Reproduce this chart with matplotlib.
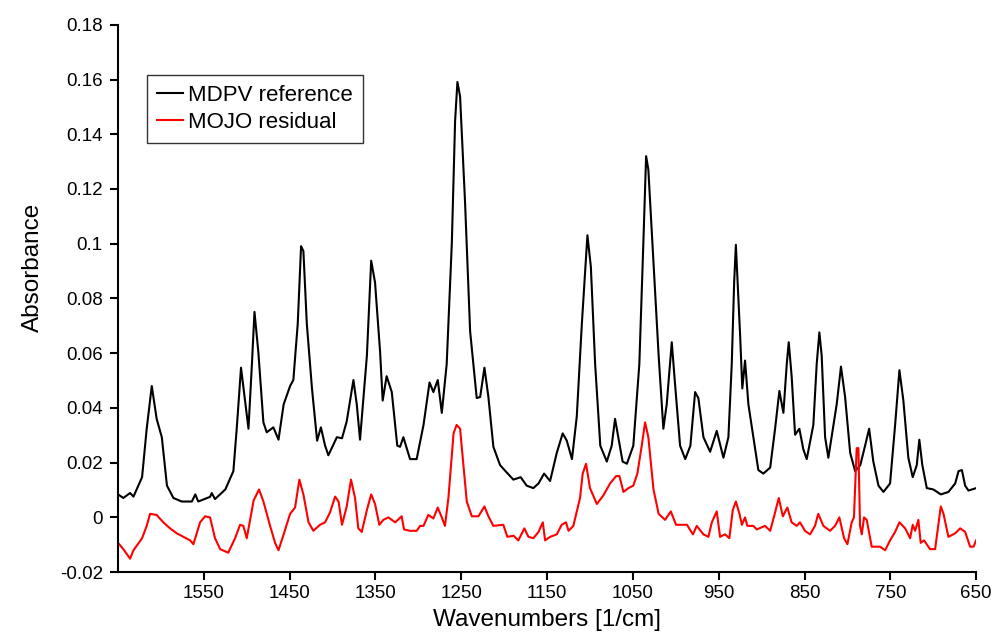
import matplotlib
matplotlib.use('Agg')
import matplotlib.pyplot as plt
from matplotlib.ticker import FuncFormatter

# MDPV reference spectrum (wavenumber, absorbance)
ref_wn = [1650, 1643.8, 1636, 1632, 1622, 1616.6, 1610.7, 1605, 1599, 1593, 1585.5, 1575.8,
          1564, 1560, 1556.5, 1542.8, 1540.8, 1537, 1525, 1515.6, 1511.7, 1506.7, 1502, 1498,
          1494, 1491, 1486.5, 1480.6, 1476.7, 1469, 1463, 1457, 1449.5, 1445.7, 1440.6, 1436.7,
          1434, 1430, 1424, 1418, 1413.6, 1408.7, 1404.9, 1395, 1389, 1383.5, 1375.7, 1371.8,
          1368, 1360, 1355, 1350.5, 1344.6, 1341.6, 1337, 1331, 1324.6, 1321.3, 1317.5, 1309.7,
          1302, 1294, 1287, 1282.5, 1277.4, 1272.7, 1267, 1261, 1257.2, 1254.5, 1251.4, 1245.6,
          1239.7, 1232, 1228, 1223, 1218.4, 1212.6, 1204.8, 1197, 1189.3, 1180.8, 1173.8, 1166,
          1160, 1153.5, 1146.5, 1138.7, 1131.8, 1127, 1121, 1115.4, 1109.5, 1103, 1099, 1094,
          1088, 1080.4, 1074.7, 1070.8, 1067, 1062, 1057, 1049.5, 1042.5, 1037.8, 1034.6, 1032,
          1026, 1020, 1014.5, 1010.6, 1004.7, 1000.8, 995, 989, 983, 977.5, 973.7, 967.8, 960,
          952.3, 944.5, 938.7, 934.8, 932, 930, 928.3, 925, 922.5, 919.3, 915.4, 909.6, 903.8,
          898, 890, 884.3, 879.3, 874.6, 870.7, 868.4, 865, 861, 856, 851.4, 847.4, 839.7, 835.8,
          832.7, 830, 826, 822.2, 812.5, 807.5, 802.7, 796.8, 791, 785, 779.4, 774.7, 769.8,
          763.8, 758, 750.3, 744.4, 739.4, 734.8, 729, 723.9, 719.2, 716.2, 712.7, 707.5, 699.8,
          691.2, 682.3, 674.4, 670.5, 666.6, 662.8, 658.9, 650]
ref_abs = [0.0084, 0.0071, 0.0089, 0.0076, 0.0147, 0.0324, 0.0480, 0.0360, 0.0293, 0.0116, 0.0071, 0.0058,
           0.0058, 0.0084, 0.0058, 0.0075, 0.0089, 0.0067, 0.0102, 0.0169, 0.0324, 0.0547, 0.0427, 0.0324,
           0.0560, 0.0751, 0.0604, 0.0347, 0.0311, 0.0329, 0.0284, 0.0413, 0.0480, 0.0502, 0.0707, 0.0991,
           0.0973, 0.0707, 0.0471, 0.0280, 0.0329, 0.0262, 0.0227, 0.0293, 0.0289, 0.0351, 0.0502, 0.0413,
           0.0284, 0.0591, 0.0938, 0.0858, 0.0604, 0.0427, 0.0516, 0.0458, 0.0262, 0.0258, 0.0293, 0.0213,
           0.0213, 0.0338, 0.0493, 0.0458, 0.0502, 0.0382, 0.0560, 0.1004, 0.1449, 0.1591, 0.1538, 0.1151,
           0.0680, 0.0436, 0.0440, 0.0547, 0.0440, 0.0258, 0.0191, 0.0164, 0.0138, 0.0147, 0.0116, 0.0107,
           0.0124, 0.0160, 0.0133, 0.0236, 0.0307, 0.0280, 0.0213, 0.0369, 0.0707, 0.1031, 0.0916, 0.0560,
           0.0262, 0.0204, 0.0262, 0.0360, 0.0293, 0.0204, 0.0196, 0.0262, 0.0560, 0.1004, 0.1320, 0.1271,
           0.0929, 0.0591, 0.0324, 0.0413, 0.0640, 0.0484, 0.0262, 0.0213, 0.0262, 0.0458, 0.0436, 0.0293, 0.0240,
           0.0316, 0.0218, 0.0293, 0.0560, 0.0858, 0.0996, 0.0884, 0.0662, 0.0471, 0.0573, 0.0413, 0.0293, 0.0173,
           0.0160, 0.0182, 0.0324, 0.0462, 0.0382, 0.0560, 0.0640, 0.0516, 0.0302, 0.0324, 0.0249, 0.0213, 0.0338, 0.0560,
           0.0676, 0.0591, 0.0293, 0.0218, 0.0413, 0.0551, 0.0440, 0.0236, 0.0169, 0.0191, 0.0262, 0.0324, 0.0204,
           0.0116, 0.0093, 0.0124, 0.0338, 0.0538, 0.0427, 0.0218, 0.0147, 0.0191, 0.0284, 0.0191, 0.0107, 0.0102,
           0.0084, 0.0093, 0.0124, 0.0169, 0.0173, 0.0116, 0.0098, 0.0107]

# MOJO residual spectrum
res_wn = [1650, 1643.8, 1636, 1632, 1622, 1616.6, 1612.7, 1605, 1597.3, 1589.4, 1581.7, 1573.9,
          1566, 1562.2, 1554.4, 1548.6, 1542.8, 1537, 1531, 1521.6, 1513.6, 1507.8, 1504, 1500,
          1492, 1485.7, 1480.6, 1472.8, 1467, 1463, 1457, 1449.5, 1443.7, 1438.7, 1434, 1428,
          1422.4, 1414.6, 1408.7, 1403, 1397, 1393, 1389, 1383.5, 1378.5, 1373.8, 1370, 1366,
          1360, 1355, 1350.5, 1345.5, 1340.8, 1335, 1327, 1319.5, 1316.7, 1309.7, 1302, 1298,
          1294, 1288.4, 1282.5, 1277.4, 1272.7, 1269, 1265, 1259, 1255.4, 1251.4, 1247.5, 1243.6,
          1237.7, 1230, 1223, 1218.4, 1212.6, 1201, 1196.3, 1189, 1183.5, 1176.5, 1171.8, 1166,
          1160, 1155, 1152.3, 1146.5, 1138.7, 1133, 1128, 1125, 1119.4, 1111.6, 1108.5, 1104.6,
          1100, 1092, 1084.5, 1076.6, 1069.6, 1065.7, 1061, 1055.2, 1049.5, 1044.8, 1039.7, 1035.8,
          1032, 1026, 1020, 1012.5, 1005.8, 999.7, 987, 980, 975.6, 967.8, 962, 958, 952.3, 948.4,
          942.6, 937.6, 933.6, 930, 925.8, 923, 919.3, 916.6, 909.6, 905.6, 896, 890, 884.3, 880,
          875.3, 870, 865, 859, 855.3, 849.5, 843.6, 837.8, 834, 828, 820.3, 814.4, 809.4, 803.9,
          800, 795, 792.4, 789.2, 787.2, 785.3, 783.3, 780.6, 777.5, 771.7, 762, 756, 750.3, 744.4,
          739.4, 732.7, 726.9, 723.9, 721.1, 717.3, 714.6, 710.7, 703.7, 697.8, 691.2, 688, 682.3,
          674.4, 668.6, 662.8, 657, 653, 650]
res_abs = [-0.0093, -0.0116, -0.0151, -0.0120, -0.0076, -0.0031, 0.0013, 0.0009, -0.0018, -0.0040, -0.0058, -0.0071,
           -0.0084, -0.0098, -0.0018, 0.0004, 0.0000, -0.0076, -0.0116, -0.0129, -0.0076, -0.0027, -0.0031, -0.0076,
           0.0062, 0.0102, 0.0058, -0.0031, -0.0093, -0.0120, -0.0062, 0.0013, 0.0036, 0.0138, 0.0084, -0.0018,
           -0.0049, -0.0027, -0.0018, 0.0018, 0.0076, 0.0058, -0.0027, 0.0040, 0.0138, 0.0071, -0.0040, -0.0053,
           0.0027, 0.0084, 0.0049, -0.0027, -0.0009, 0.0000, -0.0018, 0.0004, -0.0044, -0.0049, -0.0049, -0.0031,
           -0.0031, 0.0009, -0.0004, 0.0036, 0.0000, -0.0031, 0.0071, 0.0307, 0.0338, 0.0324, 0.0191, 0.0058,
           0.0004, 0.0004, 0.0040, 0.0004, -0.0031, -0.0027, -0.0071, -0.0067, -0.0084, -0.0040, -0.0071, -0.0076,
           -0.0053, -0.0018, -0.0084, -0.0071, -0.0062, -0.0027, -0.0018, -0.0049, -0.0031, 0.0071, 0.0160, 0.0196,
           0.0107, 0.0049, 0.0080, 0.0124, 0.0151, 0.0151, 0.0093, 0.0107, 0.0116, 0.0160, 0.0262, 0.0347,
           0.0293, 0.0102, 0.0013, -0.0009, 0.0022, -0.0027, -0.0027, -0.0062, -0.0031, -0.0062, -0.0071, -0.0018, 0.0022, -0.0071,
           -0.0062, -0.0076, 0.0027, 0.0058, 0.0013, -0.0027, 0.0000, -0.0031, -0.0031, -0.0044, -0.0031, -0.0049, 0.0018, 0.0071,
           0.0004, 0.0036, -0.0018, -0.0031, -0.0018, -0.0049, -0.0062, -0.0031, 0.0013, -0.0031, -0.0049, -0.0031, 0.0000, -0.0076,
           -0.0098, -0.0018, 0.0000, 0.0253, 0.0253, -0.0031, -0.0062, 0.0000, -0.0009, -0.0107, -0.0107, -0.0120, -0.0084, -0.0053,
           -0.0018, -0.0040, -0.0076, -0.0027, -0.0049, -0.0009, -0.0093, -0.0084, -0.0116, -0.0116, 0.0040, 0.0013, -0.0071,
           -0.0058, -0.0040, -0.0053, -0.0107, -0.0107, -0.0084]

x_ticks = [1550, 1450, 1350, 1250, 1150, 1050, 950, 850, 750, 650]
y_ticks = [-0.02, 0, 0.02, 0.04, 0.06, 0.08, 0.1, 0.12, 0.14, 0.16, 0.18]

plt.rcParams['font.family'] = ['Liberation Sans', 'DejaVu Sans']

fig = plt.figure(figsize=(9.92, 6.35), dpi=100)
ax = fig.add_axes([0.119, 0.099, 0.865, 0.862])

ax.plot(ref_wn, ref_abs, color='black', lw=1.5, label='MDPV reference')
ax.plot(res_wn, res_abs, color='#ff0000', lw=1.5, label='MOJO residual')

ax.set_xlim(1650, 650)
ax.set_ylim(-0.02, 0.18)
ax.set_xticks(x_ticks)
ax.set_yticks(y_ticks)
ax.yaxis.set_major_formatter(FuncFormatter(lambda v, p: f'{v:g}'))

for side in ['top', 'right']:
    ax.spines[side].set_visible(False)
for side in ['left', 'bottom']:
    ax.spines[side].set_linewidth(1.5)
ax.tick_params(axis='both', direction='out', length=6, width=1.5, labelsize=13.5)
ax.tick_params(axis='y', pad=5)
ax.tick_params(axis='x', pad=3)

ax.set_xlabel('Wavenumbers [1/cm]', fontsize=17.5)
ax.set_ylabel('Absorbance', fontsize=17.5)
ax.xaxis.set_label_coords(0.5, -0.068)
ax.yaxis.set_label_coords(-0.086, 0.557)

leg = ax.legend(loc='upper left', bbox_to_anchor=(0.034, 0.909), fontsize=16,
                frameon=True, fancybox=False, shadow=False, handlelength=1.15,
                handletextpad=0.25, borderpad=0.45, labelspacing=0.3, borderaxespad=0)
leg.get_frame().set_edgecolor('black')
leg.get_frame().set_linewidth(1.0)

plt.savefig('out.png', dpi=100)
